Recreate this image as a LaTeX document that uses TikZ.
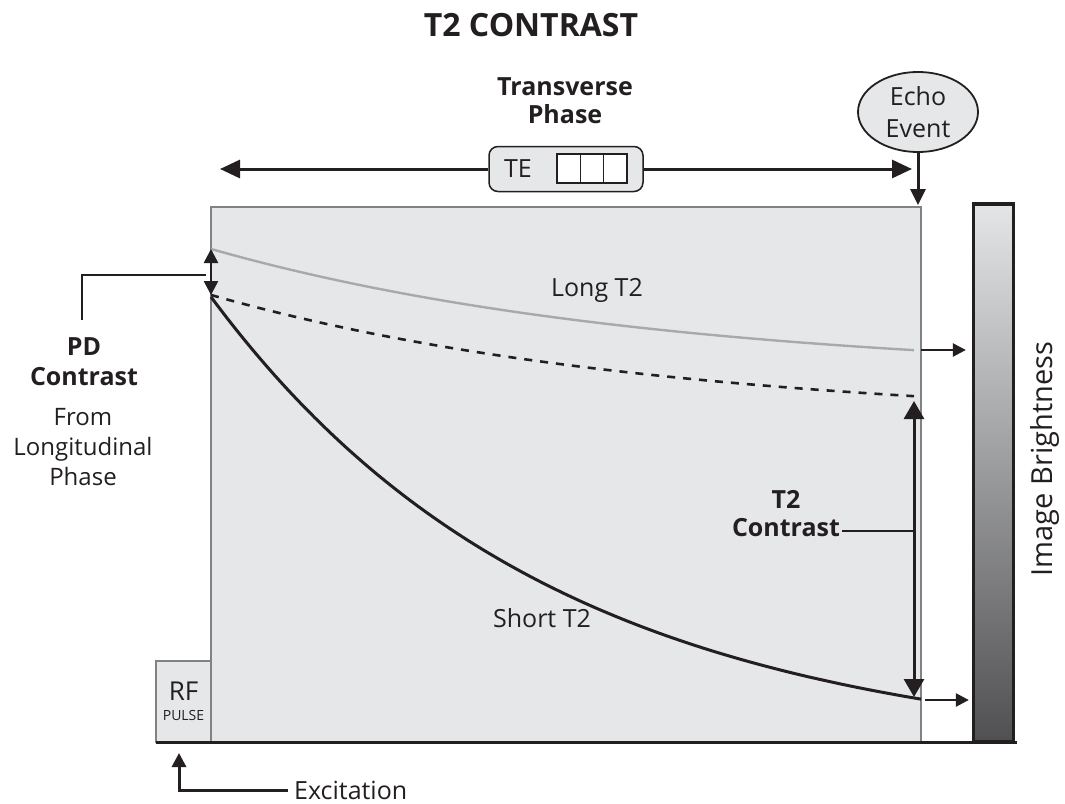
\documentclass[tikz,border=0pt]{standalone}
\usepackage{fontspec}
\setmainfont{Open Sans}
\usepackage{tikz}
\usetikzlibrary{arrows.meta,positioning,shapes.geometric}
\definecolor{cPanel}{HTML}{E6E7E8}
\definecolor{cFrame}{HTML}{808285}
\definecolor{cLong}{HTML}{A7A9AC}
\definecolor{cInk}{HTML}{231F20}
\definecolor{cBarTop}{HTML}{E4E5E6}
\definecolor{cBarBot}{HTML}{505052}
\newcommand{\sz}[2]{\fontsize{#1}{#2}\selectfont}

\begin{document}
\begin{tikzpicture}[x=1pt, y=-1pt, font=\sz{25}{29}, text=cInk,
    panel/.style={draw=cFrame, line width=1.6pt, fill=cPanel, inner sep=0pt},
    pill/.style={draw=cInk, line width=1.5pt, fill=cPanel, rounded corners=9pt,
                 minimum width=154pt, minimum height=45pt},
    bubble/.style={ellipse, draw=cInk, line width=1.8pt, fill=cPanel, align=center,
                   minimum width=120pt, minimum height=80pt, inner sep=0pt},
    flow/.style={-{Triangle[length=16pt,width=15pt]}, line width=3pt, draw=cInk},
    wide/.style={-{Triangle[length=20pt,width=18pt]}, line width=3pt, draw=cInk},
    feed/.style={-{Triangle[length=13pt,width=13pt]}, line width=2.4pt, draw=cInk},
    span/.style={{Triangle[length=18pt,width=20pt]}-{Triangle[length=18pt,width=20pt]},
                 line width=3pt, draw=cInk},
    link/.style={line width=2.2pt, draw=cInk},
  ]
  \useasboundingbox (0,0) rectangle (1065,803);

  % heading
  \node[font=\sz{32}{36}\bfseries] (title) at (531,25) {T2 CONTRAST};
  \node[font=\sz{25}{28}\bfseries, align=center] (phase) at (565,101) {Transverse\\Phase};

  % plot area, rf pulse, brightness scale
  \node[panel, minimum width=710pt, minimum height=535pt] (plot) at (566,474.5) {};
  \node[panel, minimum width=55pt, minimum height=81pt, align=center, font=\sz{14}{20}]
    (rf) at (183.5,701.5) {{\sz{26}{26}RF}\\PULSE};
  \node[draw=cInk, line width=3.3pt, top color=cBarTop, bottom color=cBarBot,
        minimum width=40pt, minimum height=538pt] (bar) at (993.5,473) {};
  \draw[line width=3pt, cInk] (156,742) -- (1017,742);

  % TE time line
  \node[pill] (te) at (566,169) {};
  \node (telbl) at (518,169) {TE};
  \foreach \i in {0,1,2}
    \draw[line width=1.4pt, draw=cInk, fill=white] (557+23.3*\i,154) rectangle ++(23.3,29);
  \coordinate (teL) at (220,169);
  \coordinate (teR) at (912,169);
  \draw[wide] (te.west) -- (teL);
  \draw[wide] (te.east) -- (teR);

  \node[bubble, font=\sz{25}{32}] (echo) at (918,112) {Echo\\Event};
  \coordinate (echoTip) at (918,205);
  \draw[flow] (echo) -- (echoTip);

  % decay curves
  \coordinate (longS) at (211,249);
  \coordinate (dashS) at (211,295);
  \coordinate (longE) at (921,350);
  \coordinate (shortE) at (925,700);
  \draw[line width=2.4pt, cLong] plot[domain=211:914, samples=60]
    (\x, {249+128*(1-exp(-(\x-211)/450))});
  \draw[line width=2.6pt, cInk, dash pattern=on 8pt off 8pt] plot[domain=211:914, samples=60]
    (\x, {295+128*(1-exp(-(\x-211)/450))});
  \draw[line width=3pt, cInk] plot[domain=211:921, samples=90]
    (\x, {297+459*(1-exp(-(\x-211)/340))});
  \node (longlbl) at (597,290) {Long T2};
  \node (shortlbl) at (542,618) {Short T2};

  \draw[feed, shorten >=6pt] (longE) -- (longE -| bar.west);
  \draw[feed, shorten >=3pt] (shortE) -- (shortE -| bar.west);

  % contrast markers
  \draw[{Triangle[length=14pt,width=14pt]}-{Triangle[length=14pt,width=14pt]},
        line width=2.6pt, cInk] (longS) -- (dashS);
  \coordinate (t2top) at (914,401);
  \coordinate (t2bot) at (914,697);
  \draw[span] (t2top) -- (t2bot);
  \node[font=\sz{25}{28}\bfseries, align=center] (t2lbl) at (786,514) {T2\\Contrast};
  \coordinate (t2line) at (842,531);
  \draw[link] (t2line) -- (t2line -| t2top);

  \node[font=\sz{25}{30}\bfseries, align=center] (pdlbl) at (84,362) {PD\\Contrast};
  \node[font=\sz{24}{30}, align=center] (pdsub) at (83,447) {From\\Longitudinal\\Phase};
  \coordinate (pdknee) at (82,275);
  \draw[link] (pdknee |- 0,320) -- (pdknee) -- ([xshift=-4pt]plot.west |- pdknee);

  \node[rotate=90, font=\sz{29}{32}] (brightlbl) at (1045,459) {Image Brightness};

  % excitation
  \node[anchor=west, inner sep=1pt] (excl) at (293,790) {Excitation};
  \coordinate (excTip) at (179,753);
  \draw[flow, -{Triangle[length=14pt,width=14pt]}] (excl.west) ++(-5pt,0) -| (excTip);
\end{tikzpicture}
\end{document}
